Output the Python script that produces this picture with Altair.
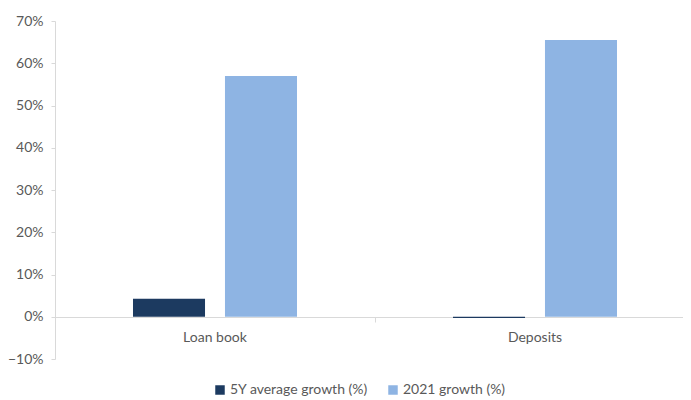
import altair as alt
import pandas as pd

categories = ["Loan book", "Deposits"]
series = ["5Y average growth (%)", "2021 growth (%)"]
avg_5y = [0.0425, -0.003]
growth_2021 = [0.57, 0.655]
colors = ["#1c3a60", "#8eb4e3"]

rows = []
for i, c in enumerate(categories):
    rows.append({"category": c, "series": series[0], "value": avg_5y[i]})
    rows.append({"category": c, "series": series[1], "value": growth_2021[i]})
df = pd.DataFrame(rows)

FONT = "Lato"
GRAY = "#595959"

bars = alt.Chart(df).mark_bar().encode(
    x=alt.X("category:N", sort=categories, title=None,
            scale=alt.Scale(paddingInner=0, paddingOuter=0, range=[0, 640]),
            axis=alt.Axis(offset=-42, labelAngle=0, labelPadding=8, bandPosition=0,
                          domainColor="#d9d9d9", tickColor="#d9d9d9", tickSize=5,
                          labelColor=GRAY, labelFont=FONT, labelFontSize=14)),
    xOffset=alt.XOffset("series:N", sort=series,
                        scale=alt.Scale(paddingInner=0.217, paddingOuter=0.848)),
    y=alt.Y("value:Q", title=None,
            scale=alt.Scale(domain=[-0.1, 0.7], nice=False),
            axis=alt.Axis(format=".0%", values=[-0.1, 0, 0.1, 0.2, 0.3, 0.4, 0.5, 0.6, 0.7],
                          grid=False, domainColor="#d9d9d9", tickColor="#d9d9d9", tickSize=4,
                          labelColor=GRAY, labelFont=FONT, labelFontSize=14, labelPadding=8)),
    color=alt.Color("series:N", sort=series, title=None,
                    scale=alt.Scale(domain=series, range=colors),
                    legend=alt.Legend(orient="none", legendX=158, legendY=362, direction="horizontal",
                                      symbolType="square", symbolSize=90, symbolStrokeWidth=0,
                                      labelColor=GRAY, labelFont=FONT, labelFontSize=14,
                                      columnPadding=18, labelOffset=3)),
)

chart = bars.properties(
    width=628, height=338,
    background="white",
    autosize=alt.AutoSizeParams(type="none"),
    padding={"left": 47, "top": 13, "right": 0, "bottom": 40},
).configure_view(stroke=None)

chart.save("out.html", embed_options={"renderer": "svg", "actions": False})
